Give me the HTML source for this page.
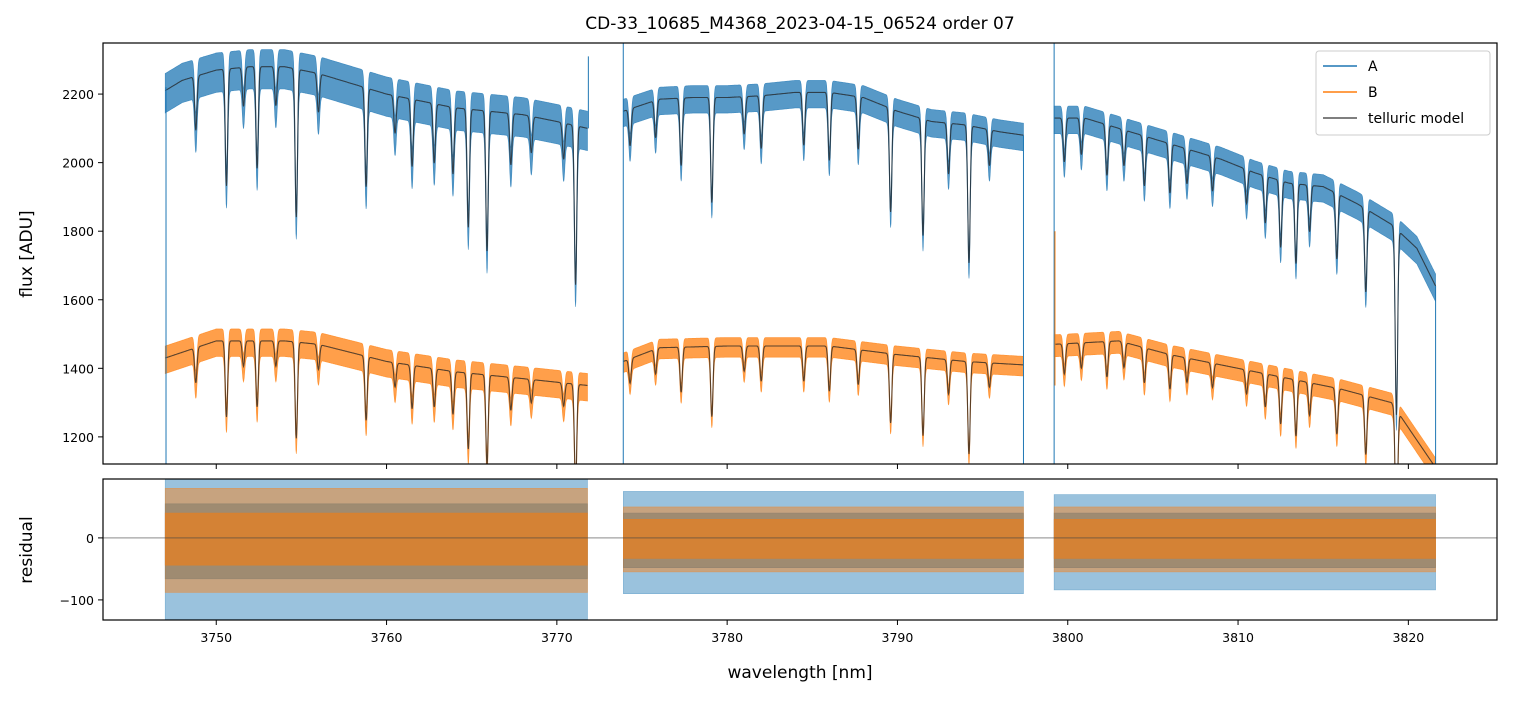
<!DOCTYPE html>
<html><head><meta charset="utf-8"><style>
body{margin:0;background:#fff;font-family:"Liberation Sans","DejaVu Sans",sans-serif}
svg text{font-family:"DejaVu Sans","Liberation Sans",sans-serif}
</style></head><body>
<svg id="c" width="1513" height="696" xmlns="http://www.w3.org/2000/svg">
<defs>
<clipPath id="ct"><rect x="103" y="43" width="1394" height="421"/></clipPath>
<clipPath id="cb"><rect x="103" y="479" width="1394" height="141"/></clipPath>
</defs>
<text x="800" y="29" text-anchor="middle" font-size="17">CD-33_10685_M4368_2023-04-15_06524  order 07</text>
<g id="topPanel"></g>
<g id="botPanel"></g>
<text x="800" y="678" text-anchor="middle" font-size="17">wavelength [nm]</text>
<text transform="translate(32,254) rotate(-90)" text-anchor="middle" font-size="17">flux [ADU]</text>
<text transform="translate(32,550) rotate(-90)" text-anchor="middle" font-size="17">residual</text>
<g id="legendG">
<rect x="1316" y="51" width="174" height="84" rx="3" fill="#fff" fill-opacity="0.85" stroke="#ccc"/>
<line x1="1323" y1="66" x2="1357" y2="66" stroke="#1f77b4" stroke-width="1.5"/><text x="1368" y="71" font-size="14">A</text>
<line x1="1323" y1="92" x2="1357" y2="92" stroke="#ff7f0e" stroke-width="1.5"/><text x="1368" y="97" font-size="14">B</text>
<line x1="1323" y1="118" x2="1357" y2="118" stroke="#555" stroke-width="1.5"/><text x="1368" y="123" font-size="14">telluric model</text>
</g>
</svg>
<script>
const segments=[[3747.0,3771.8],[3773.9,3797.4],[3799.2,3821.6]];
const contA_w=[3747,3748,3750,3752,3754,3756,3758,3760,3762,3764,3766,3768,3770,3771.8,3773.9,3776,3778,3780,3782,3784,3786,3788,3790,3792,3794,3796,3797.4,3799.2,3801,3803,3805,3807,3809,3811,3813,3815,3817,3819,3820.5,3821.6];
const contA_v=[2210,2240,2270,2280,2280,2260,2230,2200,2180,2160,2150,2140,2120,2100,2150,2185,2190,2190,2195,2205,2205,2190,2150,2120,2110,2090,2080,2130,2130,2100,2070,2040,2010,1970,1940,1930,1880,1820,1750,1640];
const contB_w=[3747,3750,3754,3756,3760,3764,3768,3771.8,3773.9,3776,3780,3786,3790,3794,3797.4,3799.2,3803,3806,3810,3813,3816,3819,3821.6];
const contB_v=[1430,1480,1480,1470,1420,1390,1370,1350,1420,1460,1465,1465,1440,1420,1410,1470,1480,1440,1400,1370,1340,1300,1110];
const lineCenters=[3748.8,3750.6,3751.6,3752.4,3753.5,3754.7,3756,3758.8,3760.5,3761.5,3762.8,3763.9,3764.8,3765.9,3767.3,3768.5,3770.4,3771.1,3774.3,3775.8,3777.3,3779.1,3781,3782,3784.5,3786,3787.7,3789.6,3791.5,3793,3794.2,3795.4,3799.8,3800.8,3802.3,3803.3,3804.5,3806,3807,3808.5,3810.5,3811.6,3812.5,3813.4,3814.2,3815.8,3817.5,3819.3];
const lineDepths=[0.07,0.15,0.05,0.13,0.05,0.19,0.05,0.13,0.05,0.09,0.08,0.09,0.16,0.19,0.07,0.05,0.05,0.22,0.05,0.05,0.09,0.14,0.05,0.07,0.07,0.09,0.07,0.14,0.16,0.07,0.19,0.05,0.06,0.05,0.07,0.05,0.07,0.07,0.05,0.05,0.05,0.07,0.1,0.12,0.07,0.1,0.13,0.3];
const noiseA=[50,35,35];
const noiseB=[35,25,28];
const residAOuter=[110,75,70];
const residACore=[55,40,40];
const residBOuter=[80,50,50];
const residBCore=[40,30,30];
const xTicks=[3750,3760,3770,3780,3790,3800,3810,3820];
const yTicks=[1200,1400,1600,1800,2000,2200];
const rTicks=[-100,0];

const X=w=>103+(w-3743.35)*17.03;
const Y=v=>43+(2349-v)*0.3428;
const R=v=>479+(95-v)*0.62;
const NS="http://www.w3.org/2000/svg";
function interp(ws,vs,w){if(w<=ws[0])return vs[0];for(let i=1;i<ws.length;i++){if(w<=ws[i]){const t=(w-ws[i-1])/(ws[i]-ws[i-1]);return vs[i-1]+t*(vs[i]-vs[i-1]);}}return vs[vs.length-1];}
function model(ws,vs,w){let c=interp(ws,vs,w),f=1;for(let i=0;i<lineCenters.length;i++){const d=w-lineCenters[i];if(Math.abs(d)<0.5)f*=1-lineDepths[i]*Math.exp(-d*d/(2*0.07*0.07));}return c*f;}
function el(t,a,p){const e=document.createElementNS(NS,t);for(const k in a)e.setAttribute(k,a[k]);p.appendChild(e);return e;}
const topG=document.getElementById('topPanel'),botG=document.getElementById('botPanel');
const gT=el('g',{'clip-path':'url(#ct)'},topG),gB=el('g',{'clip-path':'url(#cb)'},botG);
function band(g,fn,amp,color,op,name,lf){segments.forEach((s,si)=>{let up=[],lo=[];for(let w=s[0];w<=s[1]+1e-9;w+=0.02){const m=fn(w);up.push(X(w).toFixed(1)+','+fn.y(m+amp[si]).toFixed(1));lo.unshift(X(w).toFixed(1)+','+fn.y(m-amp[si]*lf).toFixed(1));}
const p=el('polygon',{points:up.concat(lo).join(' '),fill:color,'fill-opacity':op,stroke:color,'stroke-opacity':op,'stroke-width':0.6},g);

});}
function mline(g,fn,name){segments.forEach((s,si)=>{let pts=[];for(let w=s[0];w<=s[1]+1e-9;w+=0.02)pts.push(X(w).toFixed(1)+','+Y(fn(w)).toFixed(1));
const p=el('polyline',{points:pts.join(' '),fill:'none',stroke:'#222','stroke-opacity':0.75,'stroke-width':1.1},g);

});}
const fA=w=>model(contA_w,contA_v,w);fA.y=Y;
const fB=w=>model(contB_w,contB_v,w);fB.y=Y;
band(gT,fA,noiseA,'#1f77b4',0.75,'series-a',1.3);
band(gT,fB,noiseB,'#ff7f0e',0.75,'series-b',1.3);
mline(gT,fA,'telluric-model-a');mline(gT,fB,'telluric-model-b');
[[3747.05,1121,2220,'#1f77b4'],[3771.85,2100,2310,'#1f77b4'],[3773.9,1121,2349,'#1f77b4'],[3797.4,1121,2080,'#1f77b4'],[3799.2,1121,2349,'#1f77b4'],[3821.6,1121,1640,'#1f77b4'],[3799.25,1350,1800,'#ff7f0e']].forEach(s=>{const l=el('line',{x1:X(s[0]),x2:X(s[0]),y1:Y(s[1]),y2:Y(s[2]),stroke:s[3],'stroke-width':1},gT);

});
const zero=w=>0;zero.y=R;
band(gB,zero,residAOuter,'#1f77b4',0.45,'residual-a-outer',1.2);
band(gB,zero,residACore,'#1f77b4',0.6,'residual-a-core',1.2);
band(gB,zero,residBOuter,'#ff7f0e',0.45,'residual-b-outer',1.1);
band(gB,zero,residBCore,'#e57f22',0.75,'residual-b-core',1.1);
el('line',{x1:103,x2:1497,y1:R(0),y2:R(0),stroke:'#444','stroke-width':0.6},gB);
el('rect',{x:103,y:43,width:1394,height:421,fill:'none',stroke:'#000','stroke-width':1.2},topG);
el('rect',{x:103,y:479,width:1394,height:141,fill:'none',stroke:'#000','stroke-width':1.2},botG);
xTicks.forEach(t=>{const x=X(t);el('line',{x1:x,x2:x,y1:464,y2:469,stroke:'#000'},topG);el('line',{x1:x,x2:x,y1:620,y2:625,stroke:'#000'},botG);
const tx=el('text',{x:x,y:642,'text-anchor':'middle','font-size':12.5},botG);tx.textContent=t;

});
yTicks.forEach(t=>{const y=Y(t);el('line',{x1:98,x2:103,y1:y,y2:y,stroke:'#000'},topG);const tx=el('text',{x:94,y:y+5,'text-anchor':'end','font-size':12.5},topG);tx.textContent=t;

});
rTicks.forEach(t=>{const y=R(t);el('line',{x1:98,x2:103,y1:y,y2:y,stroke:'#000'},botG);const tx=el('text',{x:94,y:y+5,'text-anchor':'end','font-size':12.5},botG);tx.textContent=t===0?'0':'−100';

});
document.getElementById('c').appendChild(document.getElementById('legendG'));
</script>
</body></html>
